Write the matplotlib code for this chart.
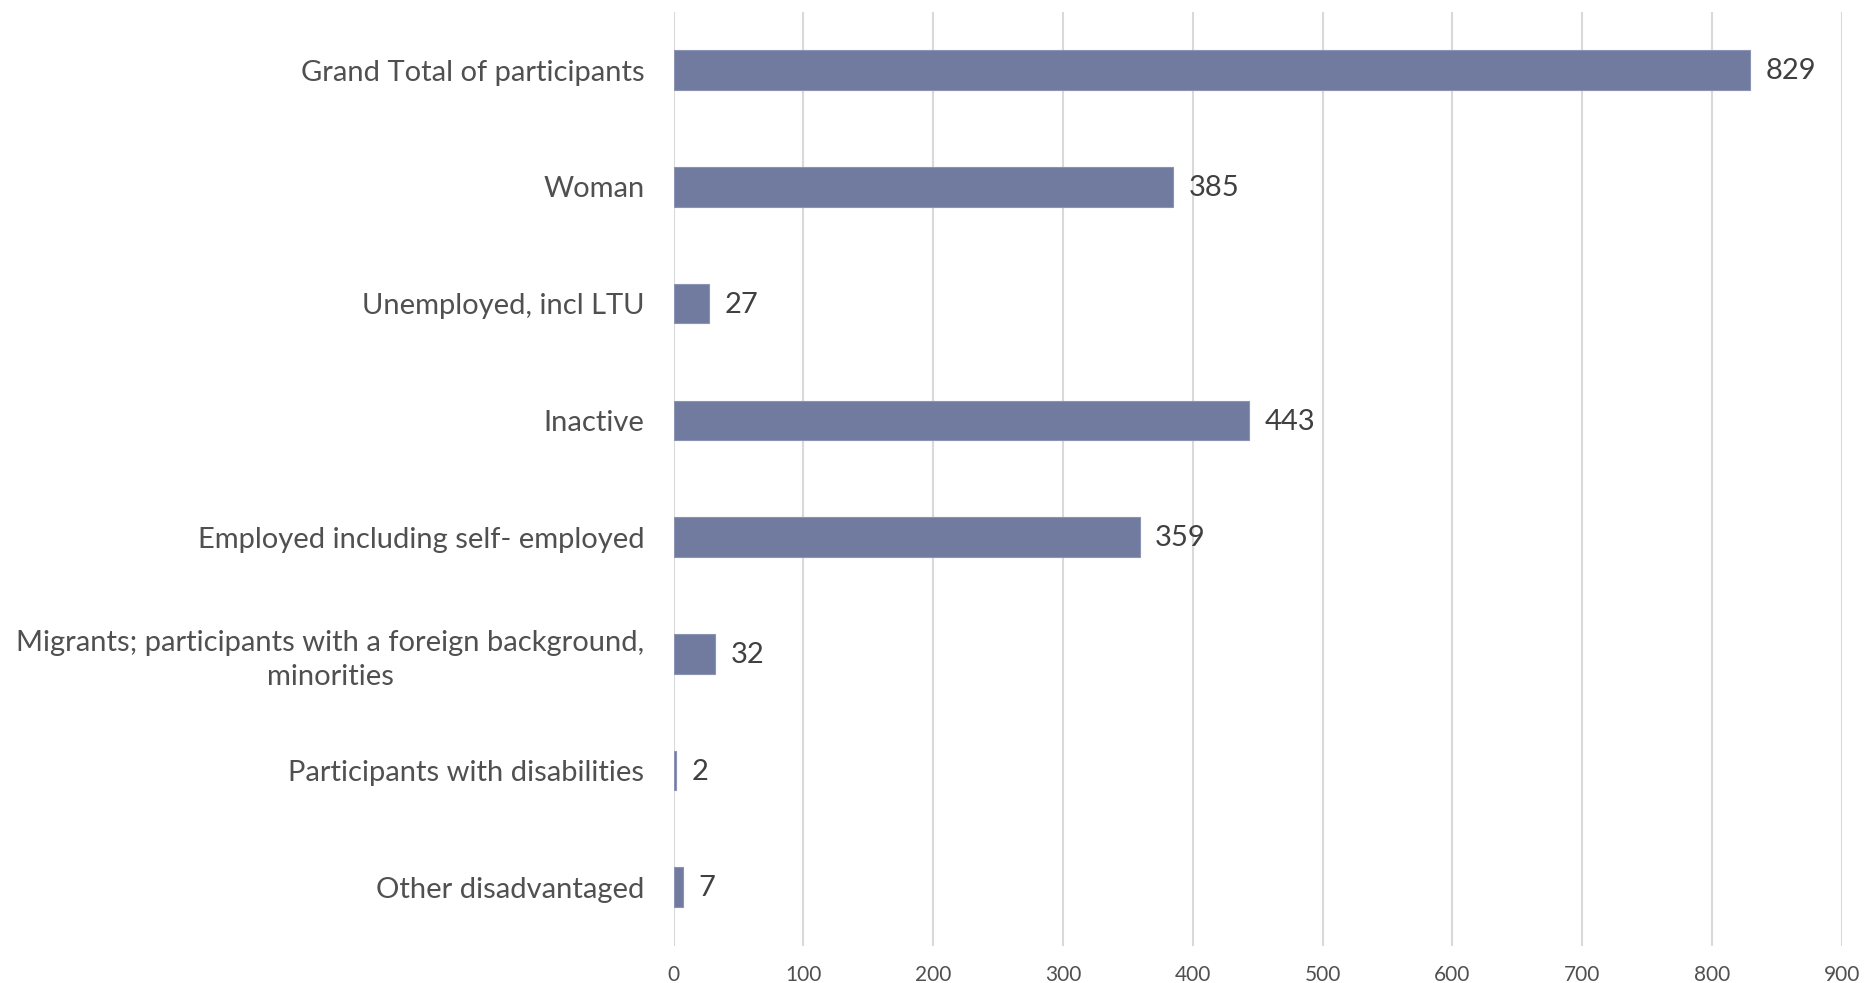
import matplotlib.pyplot as plt
import numpy as np

plt.rcParams['font.family'] = ['Lato', 'DejaVu Sans']

categories = [
    'Grand Total of participants',
    'Woman',
    'Unemployed, incl LTU',
    'Inactive',
    'Employed including self- employed',
    'Migrants; participants with a foreign background,\nminorities',
    'Participants with disabilities',
    'Other disadvantaged',
]
values = [829, 385, 27, 443, 359, 32, 2, 7]
xticks = [0, 100, 200, 300, 400, 500, 600, 700, 800, 900]

fig = plt.figure(figsize=(18.66, 9.83), dpi=100)
ax = fig.add_axes([0.361, 0.038, 0.626, 0.95])

y = np.arange(len(categories))
ax.barh(y, values, height=0.34, color='#717BA0', edgecolor='#8A93B3', linewidth=0.8, zorder=3)

# value labels next to the bars
for yi, v in zip(y, values):
    ax.text(v + 12, yi + 0.01, str(v), va='center', ha='left', fontsize=21, color='#404040')

ax.set_xlim(0, 900)
ax.set_ylim(len(categories) - 0.5, -0.5)
ax.set_yticks(y)
ax.set_yticklabels(categories, fontsize=21, color='#505050',
                   multialignment='center', linespacing=1.35)
ax.set_xticks(xticks)
ax.set_xticklabels([str(t) for t in xticks], fontsize=15, color='#505050')
ax.tick_params(axis='both', length=0)
ax.tick_params(axis='x', pad=14)
ax.tick_params(axis='y', pad=21)

ax.xaxis.grid(True, color='#D9D9D9', linewidth=1.5, zorder=0)
for s in ax.spines.values():
    s.set_visible(False)

fig.savefig('out.png', dpi=100)
